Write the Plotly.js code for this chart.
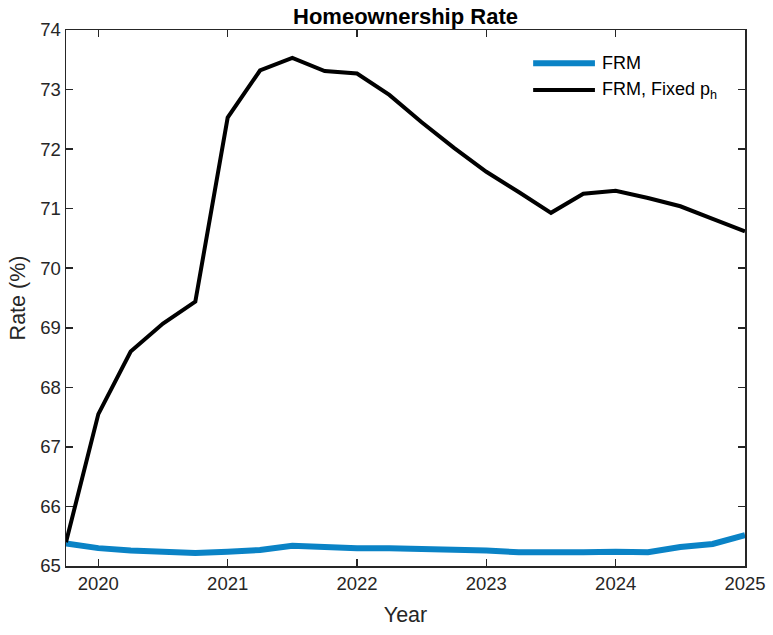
<!DOCTYPE html>
<html>
<head>
<meta charset="utf-8">
<script src="https://cdn.plot.ly/plotly-3.0.1.min.js"></script>
<style>html,body{margin:0;padding:0;background:#fff;}#chart{width:773px;height:635px;}</style>
</head>
<body>
<div id="chart"></div>
<script>
var quarters = [2019.75, 2020, 2020.25, 2020.5, 2020.75, 2021, 2021.25, 2021.5, 2021.75, 2022, 2022.25, 2022.5, 2022.75, 2023, 2023.25, 2023.5, 2023.75, 2024, 2024.25, 2024.5, 2024.75, 2025];
var frm = [65.38, 65.30, 65.26, 65.24, 65.22, 65.24, 65.27, 65.34, 65.31, 65.30, 65.30, 65.29, 65.28, 65.26, 65.23, 65.22, 65.23, 65.24, 65.23, 65.32, 65.37, 65.52];
var frmFixed = [65.40, 67.55, 68.60, 69.07, 69.44, 72.53, 73.32, 73.53, 73.31, 73.27, 72.91, 72.45, 72.02, 71.62, 71.28, 70.93, 71.25, 71.30, 71.18, 71.04, 70.83, 70.62];
var seriesNames = ['FRM', 'FRM, Fixed p<sub>h</sub>'];
var seriesColors = ['#0a83c6', '#000000'];
var seriesWidths = [6, 4];
var xTicks = [2020, 2021, 2022, 2023, 2024, 2025];
var yTicks = [65, 66, 67, 68, 69, 70, 71, 72, 73, 74];

var font = 'Liberation Sans, Arial, Helvetica, sans-serif';
var axisColor = '#262626';

var traces = [
  {x: quarters, y: frm, type: 'scatter', mode: 'lines', name: seriesNames[0],
   line: {color: seriesColors[0], width: seriesWidths[0]}},
  {x: quarters, y: frmFixed, type: 'scatter', mode: 'lines', name: seriesNames[1],
   line: {color: seriesColors[1], width: seriesWidths[1]}}
];

var axisCommon = {
  showgrid: false, zeroline: false, showline: true, mirror: 'ticks',
  linecolor: axisColor, linewidth: 1.5, ticks: 'inside', ticklen: 7,
  tickcolor: axisColor, tickwidth: 1.5,
  tickfont: {family: font, size: 18.5, color: axisColor}
};

// legend drawn inside the plot, top right (paper coordinates)
var legendRows = [0.938, 0.888];
var shapes = [];
var annotations = [];
for (var i = 0; i < seriesNames.length; i++) {
  shapes.push({type: 'line', xref: 'paper', yref: 'paper', x0: 0.688, x1: 0.779,
               y0: legendRows[i], y1: legendRows[i],
               line: {color: seriesColors[i], width: seriesWidths[i]}});
  annotations.push({xref: 'paper', yref: 'paper', x: 0.786, y: legendRows[i],
                    xanchor: 'left', yanchor: 'middle', showarrow: false,
                    text: seriesNames[i], font: {family: font, size: 18, color: '#000'}});
}

var layout = {
  width: 773, height: 635,
  margin: {l: 66, r: 28, t: 30, b: 69},
  paper_bgcolor: '#ffffff', plot_bgcolor: '#ffffff',
  title: {text: '<b>Homeownership Rate</b>', font: {family: font, size: 22, color: '#000'},
          x: 0.5, xref: 'paper', xanchor: 'center', y: 1, yref: 'paper', yanchor: 'bottom', pad: {b: 6}},
  xaxis: Object.assign({}, axisCommon, {
    range: [2019.75, 2025], tickvals: xTicks, ticktext: xTicks.map(String),
    title: {text: 'Year', font: {family: font, size: 21.5, color: axisColor}, standoff: 14}
  }),
  yaxis: Object.assign({}, axisCommon, {
    range: [65, 74], tickvals: yTicks, ticktext: yTicks.map(String),
    title: {text: 'Rate (%)', font: {family: font, size: 21.5, color: axisColor}, standoff: 8}
  }),
  showlegend: false,
  shapes: shapes,
  annotations: annotations
};

Plotly.newPlot('chart', traces, layout, {displayModeBar: false, staticPlot: true});
</script>
</body>
</html>
